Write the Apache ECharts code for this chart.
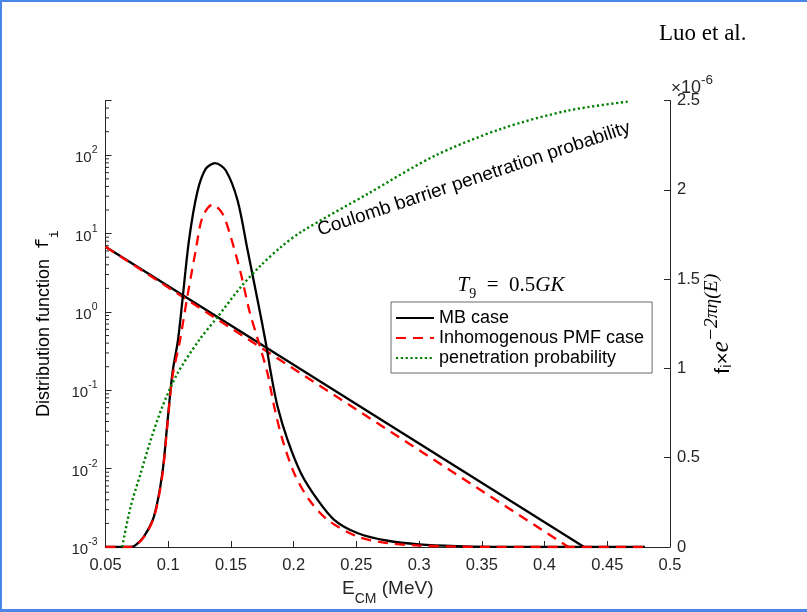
<!DOCTYPE html>
<html><head><meta charset="utf-8">
<script src="https://cdn.jsdelivr.net/npm/echarts@6/dist/echarts.min.js"></script>
<style>html,body{margin:0;padding:0;background:#fff}#c{width:807px;height:612px}</style>
</head><body><div id="c"></div>
<script>
// ---- data ----
// straight distribution lines (left log axis)
const mbLineE  = [0.05, 0.4315];
const mbLineF  = [6.8, 0.001];
const pmfLineE = [0.05, 0.419];
const pmfLineF = [6.8, 0.001];
// Gamow-peak curves (right axis, units of 1e-6)
const mbPeakE = [0.05, 0.07, 0.074, 0.0806, 0.0886, 0.0953, 0.0993, 0.1033, 0.1078, 0.1113, 0.1166, 0.1233, 0.130, 0.1374, 0.1459, 0.1553, 0.1633, 0.1713, 0.1779, 0.1819, 0.1872, 0.1952, 0.2059, 0.2192, 0.2325, 0.2512, 0.275, 0.30, 0.33, 0.36, 0.40, 0.48];
const mbPeakV = [0, 0, 0.01, 0.058, 0.17, 0.412, 0.692, 0.971, 1.16, 1.38, 1.72, 1.99, 2.118, 2.149, 2.108, 1.94, 1.661, 1.38, 1.139, 0.971, 0.785, 0.598, 0.412, 0.263, 0.151, 0.077, 0.035, 0.015, 0.005, 0.001, 0, 0];
const pmfPeakE = [0.05, 0.07, 0.074, 0.0806, 0.0886, 0.0953, 0.0993, 0.1033, 0.1094, 0.1147, 0.1219, 0.1273, 0.1353, 0.1433, 0.1499, 0.1579, 0.1646, 0.1716, 0.1792, 0.1845, 0.1912, 0.2005, 0.2125, 0.2272, 0.2512, 0.275, 0.30, 0.33, 0.36, 0.48];
const pmfPeakV = [0, 0, 0.01, 0.055, 0.165, 0.40, 0.68, 0.95, 1.158, 1.38, 1.66, 1.847, 1.917, 1.866, 1.735, 1.531, 1.325, 1.158, 0.971, 0.785, 0.598, 0.412, 0.263, 0.151, 0.058, 0.022, 0.008, 0.002, 0, 0];
// penetration probability (right axis, units of 1e-6)
const penE = [0.0633, 0.07, 0.078, 0.086, 0.0953, 0.1073, 0.1246, 0.1393, 0.1579, 0.1739, 0.1899, 0.2059, 0.2592, 0.3124, 0.3657, 0.419, 0.467];
const penV = [0, 0.225, 0.412, 0.598, 0.785, 0.971, 1.158, 1.288, 1.456, 1.577, 1.68, 1.764, 1.978, 2.19, 2.342, 2.444, 2.494];
// minor ticks of the log axis
const logMinorTicks = [0.002,0.003,0.004,0.005,0.006,0.007,0.008,0.009,
  0.02,0.03,0.04,0.05,0.06,0.07,0.08,0.09,
  0.2,0.3,0.4,0.5,0.6,0.7,0.8,0.9,
  2,3,4,5,6,7,8,9,
  20,30,40,50,60,70,80,90,
  200,300,400,500];
const xMin = 0.05, xMax = 0.5, xStep = 0.05;
const yLogMin = 0.001, yLogMax = 500;
const yRightMin = 0, yRightMax = 2.5, yRightStep = 0.5;

const zip = (a, b) => a.map((v, i) => [v, b[i]]);
const AX = '#262626';
const SANS = '"Liberation Sans", Arial, sans-serif';
const SERIF = '"Liberation Serif", "DejaVu Serif", serif';

const chart = echarts.init(document.getElementById('c'), null, {renderer: 'canvas'});
chart.setOption({
  animation: false,
  textStyle: {fontFamily: SANS},
  grid: {left: 105.5, right: 137, top: 100.5, bottom: 65, containLabel: false},
  legend: {
    orient: 'vertical', left: 391, top: 302,
    padding: [7, 8, 6, 4], itemWidth: 38, itemHeight: 14, itemGap: 2,
    borderColor: '#444', borderWidth: 0.8, backgroundColor: '#fff',
    itemStyle: {color: 'rgba(0,0,0,0)', borderColor: 'rgba(0,0,0,0)', borderWidth: 0, opacity: 0},
    textStyle: {fontSize: 18, color: '#000', fontFamily: SANS},
    data: ['MB case', 'Inhomogenous PMF case', 'penetration probability']
  },
  xAxis: {
    type: 'value', min: xMin, max: xMax, interval: xStep,
    name: '{a|E}{s|CM}{a| (MeV)}', nameLocation: 'middle', nameGap: 30,
    nameTextStyle: {color: AX, rich: {
      a: {fontSize: 19, fontFamily: SANS, color: AX, verticalAlign: 'top', padding: [0, 0, 8, 0]},
      s: {fontSize: 14, fontFamily: SANS, color: AX, verticalAlign: 'bottom'}
    }},
    axisLine: {lineStyle: {color: AX, width: 1}},
    axisTick: {inside: true, length: 6, lineStyle: {color: AX}},
    axisLabel: {fontSize: 16.5, color: AX, margin: 10, formatter: v => String(+v.toFixed(2))},
    splitLine: {show: false}
  },
  yAxis: [{
    type: 'log', logBase: 10, min: yLogMin, max: yLogMax, position: 'left',
    name: '{a|Distribution function  }{m|f}{s|i}', nameLocation: 'middle', nameGap: 43, nameRotate: 90,
    nameTextStyle: {color: '#000', rich: {
      a: {fontSize: 18, fontFamily: SANS, color: '#000', verticalAlign: 'top', padding: [0, 0, 8, 0]},
      m: {fontSize: 18, fontFamily: '"Liberation Mono", monospace', color: '#000', verticalAlign: 'top', padding: [0, 0, 8, 0]},
      s: {fontSize: 13, fontFamily: '"Liberation Mono", monospace', color: '#000', verticalAlign: 'bottom'}
    }},
    axisLine: {show: true, lineStyle: {color: AX, width: 1}},
    axisTick: {show: true, inside: true, length: 6, lineStyle: {color: AX}},
    minorTick: {show: false},
    axisLabel: {
      color: AX, margin: 8,
      formatter: v => {
        const l = Math.log10(v), e = Math.round(l);
        if (Math.abs(l - e) > 1e-6) return '';
        return '{b|10}{p|' + e + '}';
      },
      rich: {
        b: {fontSize: 15, color: AX, fontFamily: SANS, verticalAlign: 'bottom', padding: [6, 0, 0, 0]},
        p: {fontSize: 10.5, color: AX, fontFamily: SANS, verticalAlign: 'top', padding: [0, 0, 9, 0]}
      }
    },
    splitLine: {show: false}
  }, {
    type: 'value', min: yRightMin, max: yRightMax, interval: yRightStep, position: 'right',
    name: '{f|f}{s|i}{m|×}{e|e}{p|−2πη(E)}', nameLocation: 'middle', nameGap: 32, nameRotate: 90,
    nameMoveOverlap: false,
    nameTextStyle: {color: '#000', rich: {
      f: {fontSize: 21, fontFamily: SANS, color: '#000', verticalAlign: 'bottom', padding: [8, 0, 0, 0]},
      s: {fontSize: 15, fontFamily: SANS, color: '#000', verticalAlign: 'bottom'},
      m: {fontSize: 21, fontFamily: SANS, color: '#000', verticalAlign: 'bottom', padding: [8, 0, 0, 0]},
      e: {fontSize: 25, fontFamily: SERIF, fontStyle: 'italic', color: '#000', verticalAlign: 'bottom', padding: [6, 0, 0, 0]},
      p: {fontSize: 19.5, fontFamily: SERIF, fontStyle: 'italic', color: '#000', verticalAlign: 'top', padding: [0, 0, 12, 0]}
    }},
    axisLine: {show: true, lineStyle: {color: AX, width: 1}},
    axisTick: {show: true, inside: true, length: 6, lineStyle: {color: AX}},
    axisLabel: {fontSize: 16.5, color: AX, margin: 7},
    splitLine: {show: false}
  }],
  series: [
    {name: 'MB distribution', type: 'line', yAxisIndex: 0, symbol: 'none', data: zip(mbLineE, mbLineF),
      lineStyle: {color: '#000', width: 2.3}, itemStyle: {color: '#000'}, z: 2},
    {name: 'PMF distribution', type: 'line', yAxisIndex: 0, symbol: 'none', data: zip(pmfLineE, pmfLineF),
      lineStyle: {color: '#ff0000', width: 2.3, type: [10, 7]}, itemStyle: {color: '#ff0000'}, z: 3},
    {name: 'MB case', type: 'line', yAxisIndex: 1, symbol: 'none', smooth: 0.3, data: zip(mbPeakE, mbPeakV),
      lineStyle: {color: '#000', width: 2.3}, itemStyle: {color: '#000'}, z: 4},
    {name: 'Inhomogenous PMF case', type: 'line', yAxisIndex: 1, symbol: 'none', smooth: 0.3, data: zip(pmfPeakE, pmfPeakV),
      lineStyle: {color: '#ff0000', width: 2.3, type: [10, 7]}, itemStyle: {color: '#ff0000'}, z: 5},
    {name: 'penetration probability', type: 'line', yAxisIndex: 1, symbol: 'none', smooth: 0.3, data: zip(penE, penV),
      lineStyle: {color: '#008000', width: 2.4, type: [2.2, 2.6]}, itemStyle: {color: '#008000'}, z: 6},
    {name: 'log minor ticks', type: 'custom', yAxisIndex: 0, silent: true, z: 1,
      data: logMinorTicks.map(v => [xMin, v]),
      renderItem: (params, api) => {
        const p = api.coord([api.value(0), api.value(1)]);
        return {type: 'line', shape: {x1: p[0], y1: p[1], x2: p[0] + 3.5, y2: p[1]},
          style: {stroke: AX, lineWidth: 1}};
      }}
  ],
  graphic: [
    {type: 'rect', shape: {x: 0, y: 0, width: 807, height: 2}, style: {fill: '#4a86e8'}, silent: true},
    {type: 'rect', shape: {x: 0, y: 0, width: 2, height: 612}, style: {fill: '#4a86e8'}, silent: true},
    {type: 'rect', shape: {x: 0, y: 609, width: 807, height: 3}, style: {fill: '#4a86e8'}, silent: true},
    {type: 'text', x: 659, y: 34, style: {text: 'Luo et al.', font: '23px ' + SERIF, fill: '#000', align: 'left', verticalAlign: 'middle'}},
    {type: 'text', x: 671, y: 85, style: {text: '{m|×}{b|10}{p|-6}', fontSize: 17, align: 'left', verticalAlign: 'middle',
      rich: {
        m: {fontSize: 17, fontFamily: SANS, fill: AX, verticalAlign: 'bottom', padding: [6, 0, 0, 0]},
        b: {fontSize: 18, fontFamily: SANS, fill: AX, verticalAlign: 'bottom', padding: [6, 0, 0, 0]},
        p: {fontSize: 13.5, fontFamily: SANS, fill: AX, verticalAlign: 'top', padding: [0, 0, 9, 0]}
      }}},
    {type: 'text', x: 474, y: 179, rotation: 0.321,
      style: {text: 'Coulomb barrier penetration probability', font: '19px ' + SANS, fill: '#000', align: 'center', verticalAlign: 'middle'}},
    {type: 'text', x: 511, y: 288, style: {text: '{i|T}{s|9}{n|  =  0.5}{i|GK}', fontSize: 21, align: 'center', verticalAlign: 'middle',
      rich: {
        i: {fontSize: 21, fontFamily: SERIF, fontStyle: 'italic', fill: '#000', verticalAlign: 'top', padding: [0, 0, 5, 0]},
        n: {fontSize: 21, fontFamily: SERIF, fill: '#000', verticalAlign: 'top', padding: [0, 0, 5, 0]},
        s: {fontSize: 14, fontFamily: SERIF, fill: '#000', verticalAlign: 'bottom'}
      }}}
  ]
});
</script></body></html>
